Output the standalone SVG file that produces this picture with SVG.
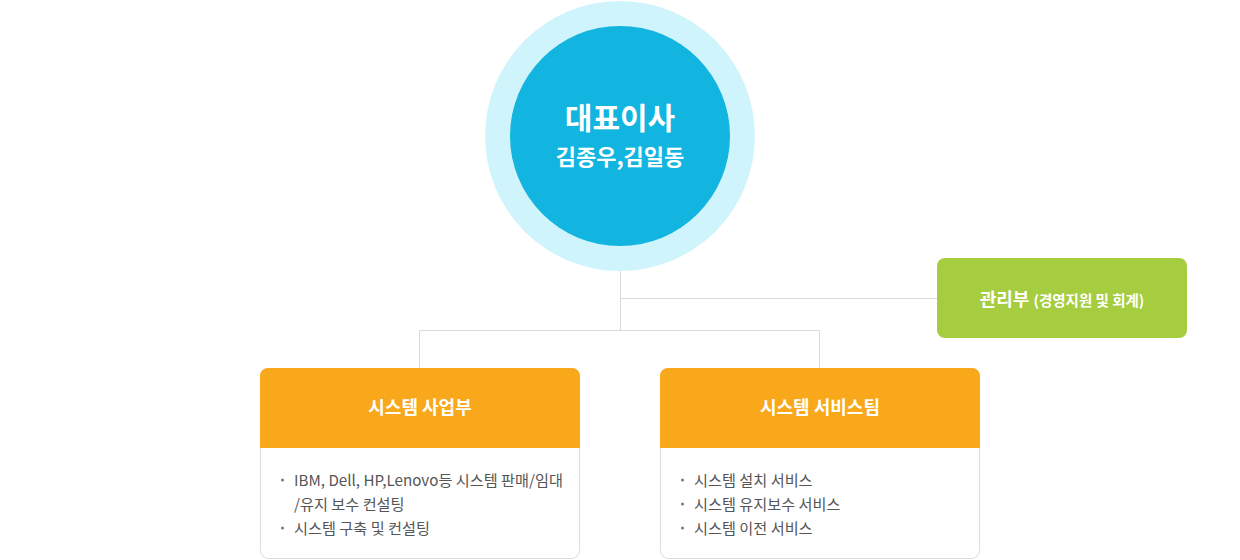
<svg xmlns="http://www.w3.org/2000/svg" width="1240" height="560" viewBox="0 0 1240 560">
<style>
text{font-family:"Noto Sans CJK KR","Noto Sans",sans-serif}
.conn{stroke:#d9d9d9;stroke-width:1;fill:none}
.hd{fill:#f9a81c}
.body{fill:#fff;stroke:#dcdcdc;stroke-width:1}
.ht{fill:#fff;font-size:18px;font-weight:700;text-anchor:middle}
.li{fill:#555;font-size:15.2px}
.dot{fill:#777}
</style>
<g id="connectors">
<path class="conn" d="M620.5 271V330.5M620.5 298.5H937M419.5 368V330.5H819.5V368"/>
</g>
<g id="ceo">
<circle cx="620" cy="136" r="135" fill="#d0f4fc"/>
<circle cx="620" cy="136" r="110" fill="#12b4e0"/>
<text x="620" y="129" fill="#fff" font-size="30" font-weight="700" text-anchor="middle">대표이사</text>
<text x="620" y="165" fill="#fff" font-size="22" font-weight="700" text-anchor="middle">김종우,김일동</text>
</g>
<g id="admin">
<rect x="937" y="258" width="250" height="80" rx="8" fill="#a5cd3f"/>
<text x="1062" y="306" fill="#fff" text-anchor="middle"><tspan font-size="18" font-weight="700">관리부 </tspan><tspan font-size="14.5" font-weight="700">(경영지원 및 회계)</tspan></text>
</g>
<g id="sysbiz">
<rect class="body" x="260.5" y="368.5" width="319" height="190" rx="8"/>
<path class="hd" d="M260 376a8 8 0 0 1 8-8h304a8 8 0 0 1 8 8v72H260z"/>
<text class="ht" x="420" y="414">시스템 사업부</text>
<circle class="dot" cx="282.5" cy="480" r="1.5"/>
<circle class="dot" cx="282.5" cy="528" r="1.5"/>
<text class="li" x="294" y="486">IBM, Dell, HP,Lenovo등 시스템 판매/임대</text>
<text class="li" x="294" y="510">/유지 보수 컨설팅</text>
<text class="li" x="294" y="534">시스템 구축 및 컨설팅</text>
</g>
<g id="syssvc">
<rect class="body" x="660.5" y="368.5" width="319" height="190" rx="8"/>
<path class="hd" d="M660 376a8 8 0 0 1 8-8h304a8 8 0 0 1 8 8v72H660z"/>
<text class="ht" x="820" y="414">시스템 서비스팀</text>
<circle class="dot" cx="682.5" cy="480" r="1.5"/>
<circle class="dot" cx="682.5" cy="504" r="1.5"/>
<circle class="dot" cx="682.5" cy="528" r="1.5"/>
<text class="li" x="694" y="486">시스템 설치 서비스</text>
<text class="li" x="694" y="510">시스템 유지보수 서비스</text>
<text class="li" x="694" y="534">시스템 이전 서비스</text>
</g>
</svg>
